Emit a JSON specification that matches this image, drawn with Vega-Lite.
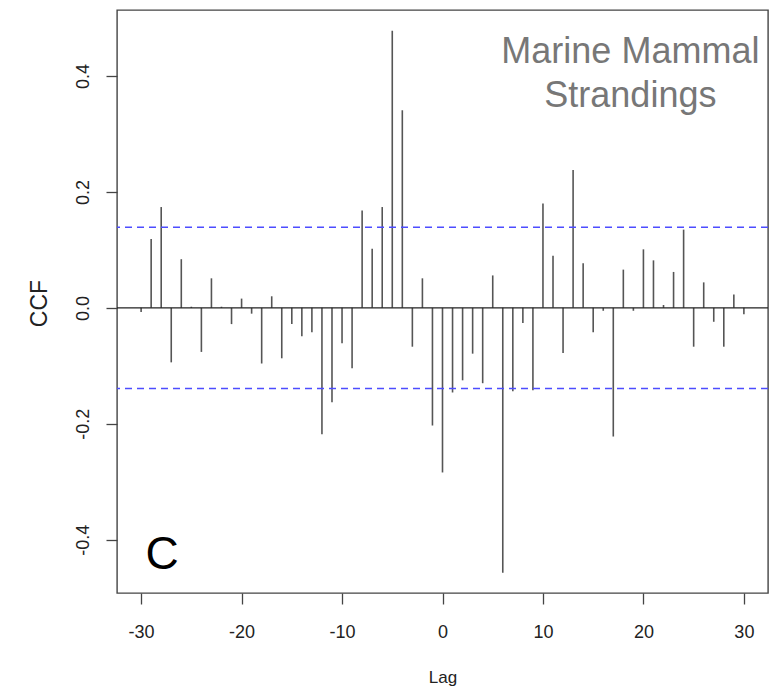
{
  "$schema": "https://vega.github.io/schema/vega-lite/v6.json",
  "autosize": "none",
  "width": 651,
  "height": 583,
  "padding": {"left": 117, "top": 10, "right": 1, "bottom": 96},
  "background": "white",
  "config": {
    "font": "Liberation Sans",
    "view": {"stroke": "#444444", "strokeWidth": 1.4},
    "axis": {
      "domain": false,
      "grid": false,
      "tickColor": "#444444",
      "tickWidth": 1.3,
      "tickSize": 11,
      "labelFont": "Liberation Sans",
      "labelFontSize": 18,
      "labelColor": "#222222",
      "titleFont": "Liberation Sans",
      "titleFontWeight": "normal",
      "titleColor": "#222222"
    }
  },
  "datasets": {
    "ccf": [
      {"lag": -30, "ccf": -0.007}, {"lag": -29, "ccf": 0.119}, {"lag": -28, "ccf": 0.174},
      {"lag": -27, "ccf": -0.094}, {"lag": -26, "ccf": 0.084}, {"lag": -25, "ccf": 0.002},
      {"lag": -24, "ccf": -0.076}, {"lag": -23, "ccf": 0.051}, {"lag": -22, "ccf": 0.002},
      {"lag": -21, "ccf": -0.028}, {"lag": -20, "ccf": 0.016}, {"lag": -19, "ccf": -0.010},
      {"lag": -18, "ccf": -0.096}, {"lag": -17, "ccf": 0.020}, {"lag": -16, "ccf": -0.087},
      {"lag": -15, "ccf": -0.028}, {"lag": -14, "ccf": -0.049}, {"lag": -13, "ccf": -0.042},
      {"lag": -12, "ccf": -0.218}, {"lag": -11, "ccf": -0.163}, {"lag": -10, "ccf": -0.061},
      {"lag": -9, "ccf": -0.104}, {"lag": -8, "ccf": 0.168}, {"lag": -7, "ccf": 0.102},
      {"lag": -6, "ccf": 0.174}, {"lag": -5, "ccf": 0.478}, {"lag": -4, "ccf": 0.341},
      {"lag": -3, "ccf": -0.067}, {"lag": -2, "ccf": 0.051}, {"lag": -1, "ccf": -0.203},
      {"lag": 0, "ccf": -0.284}, {"lag": 1, "ccf": -0.146}, {"lag": 2, "ccf": -0.125},
      {"lag": 3, "ccf": -0.079}, {"lag": 4, "ccf": -0.130}, {"lag": 5, "ccf": 0.056},
      {"lag": 6, "ccf": -0.457}, {"lag": 7, "ccf": -0.144}, {"lag": 8, "ccf": -0.026},
      {"lag": 9, "ccf": -0.142}, {"lag": 10, "ccf": 0.180}, {"lag": 11, "ccf": 0.090},
      {"lag": 12, "ccf": -0.078}, {"lag": 13, "ccf": 0.238}, {"lag": 14, "ccf": 0.077},
      {"lag": 15, "ccf": -0.042}, {"lag": 16, "ccf": -0.005}, {"lag": 17, "ccf": -0.222},
      {"lag": 18, "ccf": 0.066}, {"lag": 19, "ccf": -0.005}, {"lag": 20, "ccf": 0.101},
      {"lag": 21, "ccf": 0.082}, {"lag": 22, "ccf": 0.005}, {"lag": 23, "ccf": 0.062},
      {"lag": 24, "ccf": 0.135}, {"lag": 25, "ccf": -0.067}, {"lag": 26, "ccf": 0.044},
      {"lag": 27, "ccf": -0.024}, {"lag": 28, "ccf": -0.067}, {"lag": 29, "ccf": 0.023},
      {"lag": 30, "ccf": -0.011}
    ],
    "zero": [{"ccf": 0}],
    "bounds": [{"ccf": 0.139}, {"ccf": -0.139}],
    "labels": [
      {"lag": 18.7, "ccf": 0.442, "text": "Marine Mammal"},
      {"lag": 18.7, "ccf": 0.366, "text": "Strandings"}
    ],
    "panel": [{"lag": -27.9, "ccf": -0.426, "text": "C"}]
  },
  "layer": [
    {
      "data": {"name": "ccf"},
      "mark": {"type": "rule", "color": "#555555", "strokeWidth": 1.6},
      "encoding": {
        "x": {
          "field": "lag", "type": "quantitative",
          "scale": {"domain": [-32.4, 32.4], "nice": false, "zero": false},
          "axis": {
            "values": [-30, -20, -10, 0, 10, 20, 30],
            "labelExpr": "replace(datum.label, '\u2212', '-')",
            "labelPadding": 19,
            "title": "Lag",
            "titleFontSize": 17,
            "titleY": 84,
            "titleBaseline": "middle"
          }
        },
        "y": {
          "field": "ccf", "type": "quantitative",
          "scale": {"domain": [-0.492, 0.514], "nice": false, "zero": false},
          "axis": {
            "values": [-0.4, -0.2, 0, 0.2, 0.4],
            "labelExpr": "replace(format(datum.value, '.1f'), '\u2212', '-')",
            "labelAngle": -90,
            "labelAlign": "center",
            "labelBaseline": "bottom",
            "labelPadding": 14,
            "title": "CCF",
            "titleFontSize": 23,
            "titleAngle": -90,
            "titleX": -78,
            "titleY": 293,
            "titleAlign": "center",
            "titleBaseline": "middle"
          }
        },
        "y2": {"datum": 0}
      }
    },
    {
      "data": {"name": "zero"},
      "mark": {"type": "rule", "color": "#222222", "strokeWidth": 1.2},
      "encoding": {
        "y": {"field": "ccf", "type": "quantitative"}
      }
    },
    {
      "data": {"name": "bounds"},
      "mark": {"type": "rule", "color": "#4d4dff", "strokeWidth": 1.5, "strokeDash": [7, 5]},
      "encoding": {
        "y": {"field": "ccf", "type": "quantitative"}
      }
    },
    {
      "data": {"name": "labels"},
      "mark": {"type": "text", "fontSize": 36, "color": "#777777", "align": "center", "baseline": "middle"},
      "encoding": {
        "x": {"field": "lag", "type": "quantitative"},
        "y": {"field": "ccf", "type": "quantitative"},
        "text": {"field": "text"}
      }
    },
    {
      "data": {"name": "panel"},
      "mark": {"type": "text", "fontSize": 46, "color": "#000000", "align": "center", "baseline": "middle"},
      "encoding": {
        "x": {"field": "lag", "type": "quantitative"},
        "y": {"field": "ccf", "type": "quantitative"},
        "text": {"field": "text"}
      }
    }
  ]
}
